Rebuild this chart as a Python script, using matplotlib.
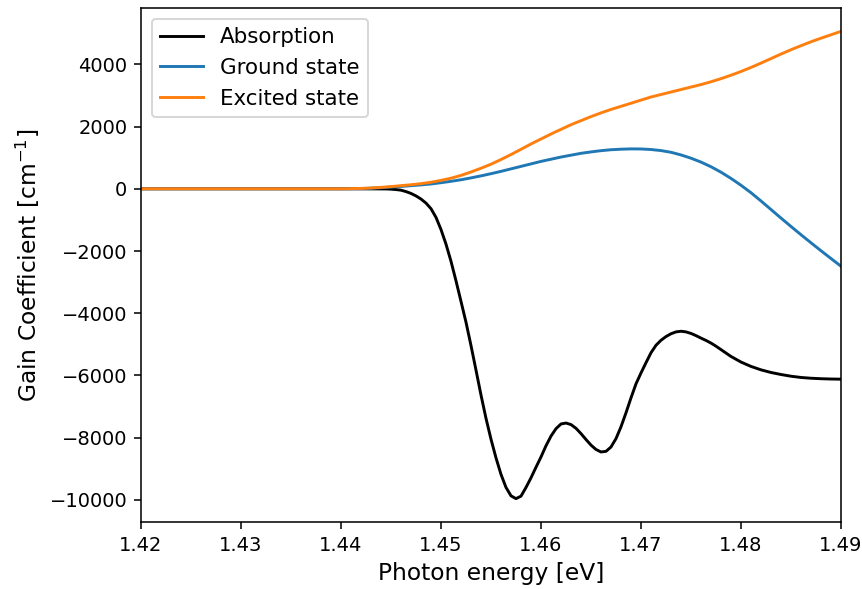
import numpy as np
import matplotlib
matplotlib.use("Agg")
import matplotlib.pyplot as plt

# photon energy grid [eV] for the two state curves
energy = [1.420, 1.430, 1.440, 1.441, 1.442, 1.443, 1.444, 1.445, 1.446, 1.447,
          1.448, 1.449, 1.450, 1.451, 1.452, 1.453, 1.454, 1.455, 1.456, 1.457,
          1.458, 1.459, 1.460, 1.461, 1.462, 1.463, 1.464, 1.465, 1.466, 1.467,
          1.468, 1.469, 1.470, 1.471, 1.472, 1.473, 1.474, 1.475, 1.476, 1.477,
          1.478, 1.479, 1.480, 1.481, 1.482, 1.483, 1.484, 1.485, 1.486, 1.487,
          1.488, 1.489, 1.490]

ground = [0, 0, 0, 3, 8, 18, 35, 55, 75, 100,
          125, 155, 195, 240, 290, 350, 415, 485, 560, 640,
          720, 800, 880, 950, 1020, 1080, 1140, 1185, 1225, 1255,
          1272, 1282, 1280, 1262, 1228, 1173, 1088, 983, 858, 708,
          533, 333, 113, -127, -392, -667, -942, -1212, -1477, -1737,
          -1992, -2242, -2490]

excited = [0, 0, 0, 5, 12, 25, 45, 70, 100, 130,
           165, 210, 270, 340, 430, 540, 660, 790, 940, 1100,
           1270, 1440, 1600, 1760, 1910, 2060, 2190, 2320, 2440, 2550,
           2650, 2750, 2850, 2950, 3030, 3110, 3190, 3270, 3350, 3440,
           3540, 3650, 3770, 3900, 4040, 4185, 4330, 4470, 4600, 4725,
           4840, 4950, 5060]

# absorption needs a finer grid around the dips
energy_abs = [1.420, 1.430, 1.440, 1.4445, 1.4450, 1.4455, 1.4460, 1.4465, 1.4470, 1.4475,
              1.4480, 1.4485, 1.4490, 1.4495, 1.4500, 1.4505, 1.4510, 1.4515, 1.4520, 1.4525,
              1.4530, 1.4535, 1.4540, 1.4545, 1.4550, 1.4555, 1.4560, 1.4565, 1.4570, 1.4575,
              1.4580, 1.4585, 1.4590, 1.4595, 1.4600, 1.4605, 1.4610, 1.4615, 1.4620, 1.4625,
              1.4630, 1.4635, 1.4640, 1.4645, 1.4650, 1.4655, 1.4660, 1.4665, 1.4670, 1.4675,
              1.4680, 1.4685, 1.4690, 1.4695, 1.4700, 1.4705, 1.4710, 1.4715, 1.4720, 1.4725,
              1.4730, 1.4735, 1.4740, 1.4745, 1.4750, 1.4755, 1.4760, 1.4765, 1.4770, 1.4775,
              1.478, 1.479, 1.480, 1.481, 1.482, 1.483, 1.484, 1.485, 1.486, 1.487,
              1.488, 1.489, 1.490]

absorption = [0, 0, 0, -5, -12, -25, -45, -90, -150, -230,
              -330, -460, -640, -920, -1310, -1780, -2330, -2960, -3620, -4290,
              -5040, -5830, -6630, -7380, -8050, -8650, -9180, -9600, -9870, -9960,
              -9880, -9600, -9290, -8950, -8620, -8260, -7950, -7710, -7560, -7530,
              -7580, -7700, -7870, -8060, -8240, -8380, -8460, -8440, -8300, -8030,
              -7650, -7200, -6720, -6270, -5920, -5590, -5270, -5030, -4870, -4750,
              -4660, -4600, -4580, -4600, -4650, -4720, -4800, -4875, -4960, -5060,
              -5170, -5390, -5570, -5710, -5820, -5905, -5970, -6025, -6065, -6090,
              -6105, -6115, -6120]

fig = plt.figure(figsize=(862 / 140, 589 / 140), dpi=140)
ax = fig.add_axes([141 / 862, 1 - 522 / 589, 700 / 862, 514 / 589])

ax.plot(energy_abs, absorption, color="black", label="Absorption")
ax.plot(energy, ground, color="tab:blue", label="Ground state")
ax.plot(energy, excited, color="tab:orange", label="Excited state")

ax.set_xlim(1.42, 1.49)
ax.set_xlabel("Photon energy [eV]", fontsize=12)
ax.set_ylabel("Gain Coefficient [cm$^{-1}$]", fontsize=12)
ax.tick_params(labelsize=10)
ax.legend(loc="upper left", fontsize=11)

fig.savefig("out.png", dpi=140)
